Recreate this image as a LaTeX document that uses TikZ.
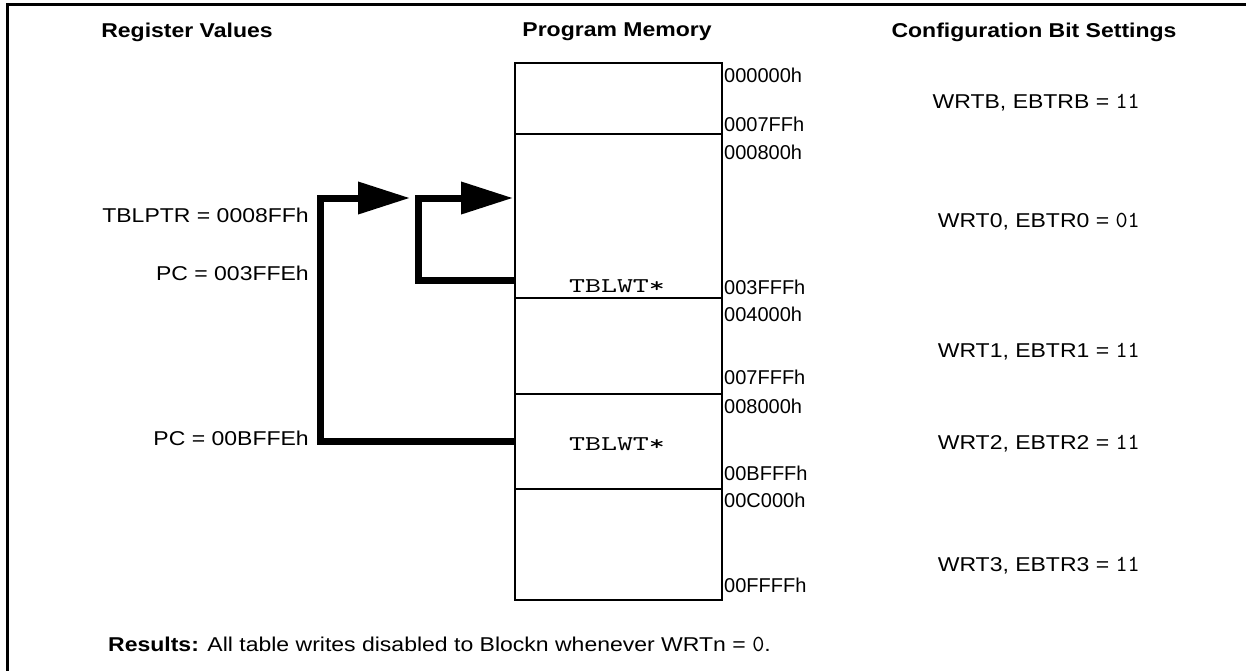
\documentclass[tikz,border=0pt]{standalone}
\usepackage{fontspec}
\setmainfont{Liberation Sans}[FakeStretch=1.15]
\newfontfamily\addrfont{Liberation Sans}
\newfontfamily\cmono{lmmono10-regular}[Extension=.otf]
\newfontfamily\twfont{lmmono10-regular}[Extension=.otf,FakeStretch=1.45]
\usetikzlibrary{arrows.meta}
\newcommand{\mv}[1]{{\fontsize{23}{24}\cmono #1}}
\begin{document}
\begin{tikzpicture}[x=1pt,y=-1pt,
  txt/.style={inner sep=0pt,font=\fontsize{20}{24}\selectfont},
  addr/.style={inner sep=0pt,anchor=west,font=\fontsize{20}{24}\selectfont\addrfont},
  hdr/.style={txt,font=\fontsize{20}{24}\selectfont\bfseries},
  blk/.style={draw,line width=1.8pt,minimum width=207pt,inner sep=0pt,anchor=north west},
  mono/.style={txt,font=\fontsize{21}{24}\selectfont\twfont},
  flow/.style={line width=7pt,line join=miter,-{Triangle[length=52pt,width=31pt]}}]
\useasboundingbox (0,0) rectangle (1246,670);
% frame
\draw[line width=3pt] (1250,4) -- (7,4) -- (7,672);
% headers
\node[hdr] (h1) at (187,32) {Register Values};
\node[hdr] (h2) at (617,32) {Program Memory};
\node[hdr] (h3) at (1034,32) {Configuration Bit Settings};
% memory blocks
\node[blk,minimum height=71pt] (bA) at (514,62) {};
\node[blk,minimum height=164pt] (bB) at (514,133) {};
\node[blk,minimum height=96pt] (bC) at (514,297) {};
\node[blk,minimum height=95pt] (bD) at (514,393) {};
\node[blk,minimum height=111pt] (bE) at (514,488) {};
\node[mono] (tw1) at (617,286) {TBLWT*};
\node[mono] (tw2) at (617,444) {TBLWT*};
% addresses
\foreach \n/\y/\t in {a1/75/000000h,a2/124/0007FFh,a3/152/000800h,a4/287/003FFFh,a5/314/004000h,a6/377/007FFFh,a7/406/008000h,a8/473/00BFFFh,a9/500/00C000h,a10/585/00FFFFh}
  \node[addr] (\n) at (724,\y) {\t};
% register values
\node[txt,anchor=east] (r1) at (309,215) {TBLPTR = 0008FFh};
\node[txt,anchor=east] (r2) at (309,273) {PC = 003FFEh};
\node[txt,anchor=east] (r3) at (309,438) {PC = 00BFFEh};
% config
\node[txt,anchor=east] (c1) at (1140,103) {WRTB, EBTRB = \mv{11}};
\node[txt,anchor=east] (c2) at (1140,222) {WRT0, EBTR0 = \mv{01}};
\node[txt,anchor=east] (c3) at (1140,352) {WRT1, EBTR1 = \mv{11}};
\node[txt,anchor=east] (c4) at (1140,444) {WRT2, EBTR2 = \mv{11}};
\node[txt,anchor=east] (c5) at (1140,566) {WRT3, EBTR3 = \mv{11}};
% results
\node[txt,anchor=west] (res) at (108,644) {\textbf{Results:} All table writes disabled to Blockn whenever WRTn = \mv{0}.};
% connectors
\coordinate (s1) at (514,441);
\coordinate (k1) at (320,441);
\coordinate (k2) at (320,198);
\coordinate (t1) at (410,198);
\coordinate (s2) at (514,280);
\coordinate (k3) at (418,280);
\coordinate (k4) at (418,198);
\coordinate (t2) at (513,198);
\draw[flow] (s1) -- (k1) -- (k2) -- (t1);
\draw[flow] (s2) -- (k3) -- (k4) -- (t2);
\end{tikzpicture}
\end{document}
